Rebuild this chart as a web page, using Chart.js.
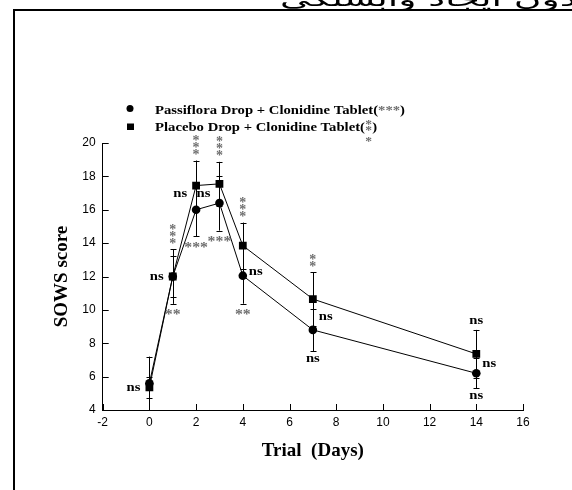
<!DOCTYPE html>
<html>
<head>
<meta charset="utf-8">
<script src="https://cdn.jsdelivr.net/npm/chart.js@4.4.0/dist/chart.umd.min.js"></script>
<style>
  html, body { margin: 0; padding: 0; background: #fff; }
</style>
</head>
<body>
<canvas id="chart" width="572" height="490"></canvas>
<script>
// SOWS score by trial day
const days = [0, 1, 2, 3, 4, 7, 14];
const passiflora = [5.6, 12.0, 16.0, 16.4, 12.05, 8.8, 6.2];
const passifloraErr = [1.6, 1.25, 1.6, 1.65, 1.68, 1.27, 0.9];
const placebo = [5.35, 12.0, 17.45, 17.55, 13.85, 10.65, 7.36];
const placeboErr = [0.65, 1.64, 1.5, 1.32, 1.38, 1.6, 1.44];

// significance marks (gray stars) over the upper bar and under the lower bar
const topMarks = ['', '***', '***', '***', '***', '**', ''];
const bottomMarks = ['', '**', '***', '***', '**', '', ''];

// "ns" labels: day, score level, side of the point
const nsDays = [0, 1, 2, 3, 4, 7, 7, 14, 14, 14];
const nsValues = [5.32, 11.98, 16.96, 16.96, 12.3, 9.58, 7.1, 9.36, 6.76, 4.86];
const nsSides = ['left', 'left', 'left', 'left', 'right', 'right', 'below', 'above', 'right', 'below'];

const legendLabels = ['Passiflora Drop + Clonidine Tablet(', 'Placebo Drop + Clonidine Tablet('];

const STRETCH = 1.13;
const serifBold = '"Liberation Serif", "Times New Roman", serif';
const sansFont = '"Liberation Sans", Arial, sans-serif';
const starColor = '#6e6e6e';

function wideText(ctx, text, x, y, align) {
  ctx.save();
  ctx.translate(x, y);
  ctx.scale(STRETCH, 1);
  ctx.textAlign = align;
  ctx.fillText(text, 0, 0);
  ctx.restore();
}

const framePlugin = {
  id: 'frame',
  beforeDraw(chart) {
    const { ctx } = chart;
    ctx.save();
    ctx.fillStyle = '#fff';
    ctx.fillRect(0, 0, chart.width, chart.height);
    // cut-off caption from the page above
    ctx.fillStyle = '#000';
    ctx.font = '20px "DejaVu Sans", sans-serif';
    ctx.direction = 'rtl';
    ctx.textAlign = 'right';
    ctx.textBaseline = 'alphabetic';
    const caption = 'بدون ایجاد وابستگی';
    const cw = ctx.measureText(caption).width;
    const sx = 310 / cw;
    ctx.translate(280, 6);
    ctx.scale(sx, 1);
    ctx.fillText(caption, cw, 0);
    ctx.restore();

    ctx.save();
    ctx.strokeStyle = '#000';
    ctx.lineWidth = 2;
    ctx.beginPath();
    ctx.moveTo(14, 490);
    ctx.lineTo(14, 10);
    ctx.lineTo(572, 10);
    ctx.stroke();
    ctx.restore();
  }
};

const ticksPlugin = {
  id: 'innerTicks',
  afterDraw(chart) {
    const { ctx, chartArea } = chart;
    const xs = chart.scales.x;
    const ys = chart.scales.y;
    ctx.save();
    ctx.strokeStyle = '#000';
    ctx.lineWidth = 1;
    ctx.beginPath();
    ys.ticks.forEach((t) => {
      const py = Math.round(ys.getPixelForValue(t.value)) + 0.5;
      ctx.moveTo(chartArea.left, py);
      ctx.lineTo(chartArea.left + 6, py);
    });
    xs.ticks.forEach((t) => {
      const px = Math.round(xs.getPixelForValue(t.value)) + 0.5;
      ctx.moveTo(px, chartArea.bottom);
      ctx.lineTo(px, chartArea.bottom - 6);
    });
    ctx.stroke();
    ctx.restore();
  }
};

const errorBarsPlugin = {
  id: 'errorBars',
  beforeDatasetsDraw(chart) {
    const { ctx } = chart;
    const xs = chart.scales.x;
    const ys = chart.scales.y;
    const sets = [[passiflora, passifloraErr], [placebo, placeboErr]];
    ctx.save();
    ctx.strokeStyle = '#000';
    ctx.lineWidth = 1;
    sets.forEach(([vals, errs]) => {
      days.forEach((d, i) => {
        const px = Math.round(xs.getPixelForValue(d)) + 0.5;
        const top = ys.getPixelForValue(Math.min(vals[i] + errs[i], 20));
        const bot = ys.getPixelForValue(Math.max(vals[i] - errs[i], 4));
        ctx.beginPath();
        ctx.moveTo(px, top);
        ctx.lineTo(px, bot);
        ctx.moveTo(px - 3, Math.round(top) + 0.5);
        ctx.lineTo(px + 3, Math.round(top) + 0.5);
        if (vals[i] - errs[i] > 4) {
          ctx.moveTo(px - 3, Math.round(bot) + 0.5);
          ctx.lineTo(px + 3, Math.round(bot) + 0.5);
        }
        ctx.stroke();
      });
    });
    ctx.restore();
  }
};

const notesPlugin = {
  id: 'notes',
  afterDatasetsDraw(chart) {
    const { ctx } = chart;
    const xs = chart.scales.x;
    const ys = chart.scales.y;
    ctx.save();

    // gray stars
    ctx.fillStyle = starColor;
    ctx.font = 'bold 14px ' + serifBold;
    ctx.textBaseline = 'alphabetic';
    days.forEach((d, i) => {
      const px = xs.getPixelForValue(d);
      const upper = Math.max(passiflora[i] + passifloraErr[i], placebo[i] + placeboErr[i]);
      const lower = Math.min(passiflora[i] - passifloraErr[i], placebo[i] - placeboErr[i]);
      const n = topMarks[i].length;
      for (let k = 0; k < n; k++) {
        const cy = ys.getPixelForValue(upper) - 8 - k * 7;
        ctx.textAlign = 'center';
        ctx.fillText('*', px, cy + 6.5);
      }
      if (bottomMarks[i]) {
        const cy = ys.getPixelForValue(lower) + 9;
        wideText(ctx, bottomMarks[i], px, cy + 6.5, 'center');
      }
    });

    // ns labels
    ctx.fillStyle = '#000';
    ctx.font = 'bold 13px ' + serifBold;
    ctx.textBaseline = 'middle';
    nsDays.forEach((d, i) => {
      const px = xs.getPixelForValue(d);
      const py = ys.getPixelForValue(nsValues[i]);
      const side = nsSides[i];
      if (side === 'left') wideText(ctx, 'ns', px - 9, py, 'right');
      else if (side === 'right') wideText(ctx, 'ns', px + 6, py, 'left');
      else wideText(ctx, 'ns', px, py, 'center');
    });

    // legend
    ctx.fillStyle = '#000';
    ctx.beginPath();
    ctx.arc(130, 108.5, 3.5, 0, Math.PI * 2);
    ctx.fill();
    ctx.fillRect(127, 123.5, 7, 6.5);
    ctx.textBaseline = 'alphabetic';
    ctx.font = 'bold 13px ' + serifBold;
    ctx.textAlign = 'left';
    ctx.save();
    ctx.translate(155, 113.5);
    ctx.scale(STRETCH, 1);
    ctx.fillText(legendLabels[0], 0, 0);
    let w = ctx.measureText(legendLabels[0]).width;
    ctx.fillStyle = starColor;
    ctx.fillText('***', w, 0);
    const ws = ctx.measureText('***').width;
    ctx.fillStyle = '#000';
    ctx.fillText(')', w + ws, 0);
    ctx.restore();

    ctx.save();
    ctx.translate(155, 130.5);
    ctx.scale(STRETCH, 1);
    ctx.fillText(legendLabels[1], 0, 0);
    w = ctx.measureText(legendLabels[1]).width;
    const w1 = ctx.measureText('*').width;
    ctx.fillStyle = starColor;
    ctx.font = 'bold 12px ' + serifBold;
    ctx.textAlign = 'center';
    [-8, -2, 9].forEach((dy) => ctx.fillText('*', w + w1 / 2, dy + 5.5));
    ctx.fillStyle = '#000';
    ctx.font = 'bold 13px ' + serifBold;
    ctx.textAlign = 'left';
    ctx.fillText(')', w + w1, 0);
    ctx.restore();

    ctx.restore();
  }
};

const pointsOf = (vals) => days.map((d, i) => ({ x: d, y: vals[i] }));

const config = {
  type: 'line',
  data: {
    datasets: [
      {
        label: legendLabels[0],
        data: pointsOf(passiflora),
        borderColor: '#000',
        backgroundColor: '#000',
        borderWidth: 1,
        pointStyle: 'circle',
        pointRadius: 4.3,
        pointBorderWidth: 0,
        tension: 0
      },
      {
        label: legendLabels[1],
        data: pointsOf(placebo),
        borderColor: '#000',
        backgroundColor: '#000',
        borderWidth: 1,
        pointStyle: 'rect',
        pointRadius: 5.5,
        pointBorderWidth: 0,
        tension: 0
      }
    ]
  },
  options: {
    responsive: false,
    animation: false,
    events: [],
    layout: { padding: { left: 40, top: 143, right: 49, bottom: 20 } },
    plugins: {
      legend: { display: false },
      tooltip: { enabled: false }
    },
    scales: {
      x: {
        type: 'linear',
        min: -2,
        max: 16,
        afterFit: (scale) => { scale.height = 60; },
        grid: { display: false, drawTicks: false },
        border: { display: true, color: '#000', width: 1 },
        ticks: {
          stepSize: 2,
          padding: 5,
          color: '#000',
          maxRotation: 0,
          font: { family: sansFont, size: 12 }
        },
        title: {
          display: true,
          text: 'Trial  (Days)',
          color: '#000',
          padding: { top: 0, bottom: 8 },
          font: { family: serifBold, size: 19, weight: 'bold' }
        }
      },
      y: {
        min: 4,
        max: 20,
        afterFit: (scale) => { scale.width = 62.7; },
        grid: { display: false, drawTicks: false },
        border: { display: true, color: '#000', width: 1 },
        ticks: {
          stepSize: 2,
          padding: 7,
          color: '#000',
          font: { family: sansFont, size: 12 }
        },
        title: {
          display: true,
          text: 'SOWS score',
          color: '#000',
          padding: { top: 11, bottom: 0 },
          font: { family: serifBold, size: 19, weight: 'bold' }
        }
      }
    }
  },
  plugins: [framePlugin, errorBarsPlugin, notesPlugin, ticksPlugin]
};

new Chart(document.getElementById('chart'), config);
</script>
</body>
</html>
